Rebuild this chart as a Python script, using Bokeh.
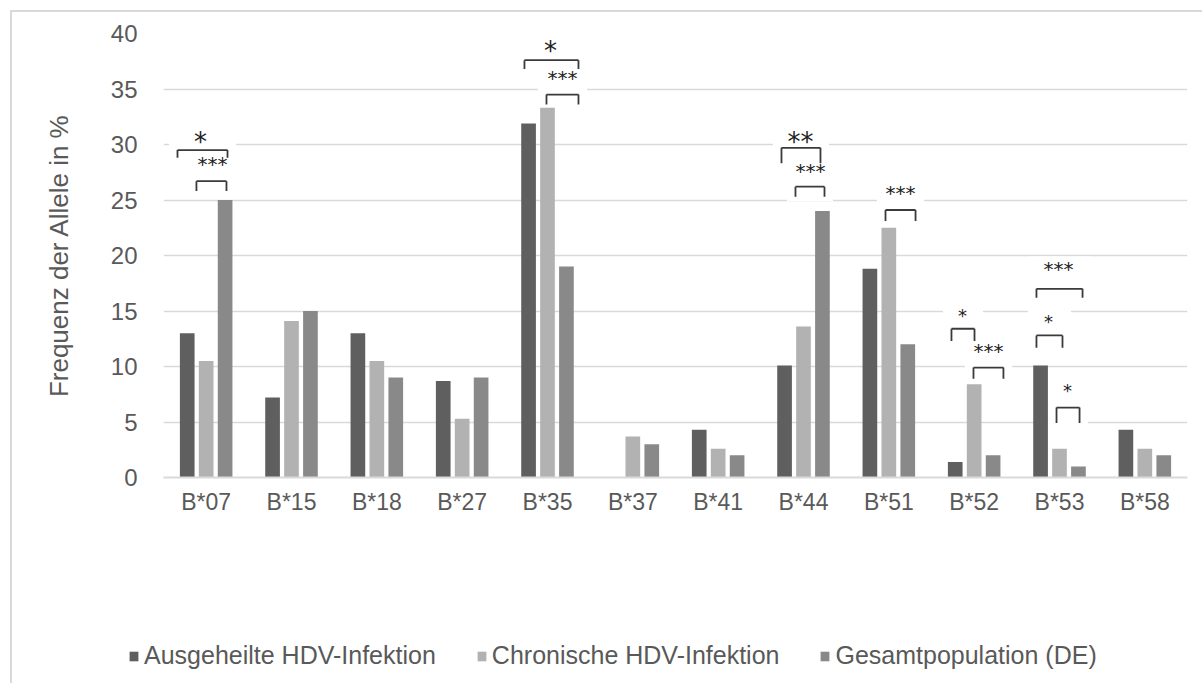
from bokeh.plotting import figure
from bokeh.layouts import column
from bokeh.models import Range1d, FixedTicker, Legend, LegendItem, ColumnDataSource
from bokeh.core.properties import value
from bokeh.embed import file_html
from bokeh.resources import INLINE

# ---------------- data ----------------
alleles = ["B*07", "B*15", "B*18", "B*27", "B*35", "B*37",
           "B*41", "B*44", "B*51", "B*52", "B*53", "B*58"]
ausgeheilt = [13.0, 7.2, 13.0, 8.7, 31.9, 0.0, 4.3, 10.1, 18.8, 1.4, 10.1, 4.3]
chronisch = [10.5, 14.1, 10.5, 5.3, 33.3, 3.7, 2.6, 13.6, 22.5, 8.4, 2.6, 2.6]
gesamt = [25.0, 15.0, 9.0, 9.0, 19.0, 3.0, 2.0, 24.0, 12.0, 2.0, 1.0, 2.0]
series_names = ["Ausgeheilte HDV-Infektion", "Chronische HDV-Infektion",
                "Gesamtpopulation (DE)"]
y_ticks = [0, 5, 10, 15, 20, 25, 30, 35, 40]

# significance annotations: allele, bracket from/to (offset in category units),
# bracket level, leg end level, label, label x offset, label level, label kind
annotations = [
    ("B*07", -0.336, 0.250, 29.5, 28.8, "*", -0.067, 30.6, "big"),
    ("B*07", -0.114, 0.238, 26.7, 25.8, "***", 0.074, 28.3, "triple"),
    ("B*35", -0.270, 0.363, 37.6, 36.8, "*", 0.035, 38.8, "big"),
    ("B*35", -0.012, 0.363, 34.5, 33.6, "***", 0.176, 36.1, "triple"),
    ("B*44", -0.258, 0.199, 29.7, 28.3, "**", -0.035, 30.6, "big"),
    ("B*44", -0.094, 0.246, 26.2, 25.3, "***", 0.082, 27.7, "triple"),
    ("B*51", -0.039, 0.313, 24.1, 23.1, "***", 0.137, 25.7, "triple"),
    ("B*52", -0.266, 0.004, 13.4, 12.3, "*", -0.137, 14.8, "small"),
    ("B*52", -0.008, 0.343, 9.9, 8.9, "***", 0.168, 11.5, "triple"),
    ("B*53", -0.270, 0.270, 17.0, 16.2, "***", -0.012, 18.9, "triple"),
    ("B*53", -0.270, 0.035, 12.8, 11.7, "*", -0.129, 14.2, "small"),
    ("B*53", -0.035, 0.235, 6.3, 4.9, "*", 0.094, 8.0, "small"),
]

# ---------------- styling ----------------
colors = ["#5f5f5f", "#b2b2b2", "#898989"]
text_color = "#595959"
grid_color = "#d9d9d9"
bar_width = 0.172
bar_step = 0.222
label_style = {"big": (26, 4), "triple": (20, 1), "small": (18, 2)}

p = figure(width=1190, height=588, output_backend="svg", toolbar_location=None,
           x_range=Range1d(0, len(alleles)), y_range=Range1d(0, 40),
           min_border_left=151, min_border_right=15, min_border_top=21,
           min_border_bottom=123, background_fill_color="white",
           border_fill_color="white", outline_line_color=None)
p.frame_align = False

centers = [i + 0.5 for i in range(len(alleles))]

# white masks behind annotations (hide gridlines like the text boxes)
mask = dict(left=[], right=[], bottom=[], top=[])
for a in annotations:
    c = alleles.index(a[0]) + 0.5
    mask["left"].append(c + a[1] - 0.1)
    mask["right"].append(c + a[2] + 0.1)
    mask["bottom"].append(a[4] - 0.4)
    mask["top"].append(a[7] + 1.0)
p.quad(left="left", right="right", bottom="bottom", top="top",
       source=ColumnDataSource(mask), fill_color="white", line_color=None)

for k, vals in enumerate([ausgeheilt, chronisch, gesamt]):
    xs = [c + (k - 1) * bar_step for c in centers]
    p.vbar(x=xs, top=vals, bottom=0, width=bar_width,
           fill_color=colors[k], line_color=None)

# brackets
seg = dict(x0=[], y0=[], x1=[], y1=[])
for a in annotations:
    c = alleles.index(a[0]) + 0.5
    xl, xr, yb, yl = c + a[1], c + a[2], a[3], a[4]
    for (x0, y0, x1, y1) in [(xl, yb, xr, yb), (xl, yb, xl, yl), (xr, yb, xr, yl)]:
        seg["x0"].append(x0); seg["y0"].append(y0)
        seg["x1"].append(x1); seg["y1"].append(y1)
p.segment(x0="x0", y0="y0", x1="x1", y1="y1", source=ColumnDataSource(seg),
          line_color="#3a3a3a", line_width=1.8)

for kind, (size, yoff) in label_style.items():
    sel = [a for a in annotations if a[8] == kind]
    p.text(x=[alleles.index(a[0]) + 0.5 + a[6] for a in sel],
           y=[a[7] for a in sel], text=[a[5] for a in sel],
           text_font=value("DejaVu Sans"), text_font_size=f"{size}px",
           text_align="center", text_baseline="alphabetic",
           y_offset=yoff, text_color="#222222")

# axes
p.xaxis.ticker = FixedTicker(ticks=centers)
p.xaxis.major_label_overrides = {c: a for c, a in zip(centers, alleles)}
p.xaxis.axis_line_color = grid_color
p.xaxis.axis_line_width = 2
p.xaxis.major_tick_line_color = None
p.xaxis.minor_tick_line_color = None
p.xaxis.major_label_text_font = "Liberation Sans"
p.xaxis.major_label_text_font_size = "23px"
p.xaxis.major_label_text_color = text_color
p.xaxis.major_label_standoff = 5

p.yaxis.ticker = FixedTicker(ticks=y_ticks)
p.yaxis.axis_line_color = None
p.yaxis.major_tick_line_color = None
p.yaxis.minor_tick_line_color = None
p.yaxis.major_label_text_font = "Liberation Sans"
p.yaxis.major_label_text_font_size = "24px"
p.yaxis.major_label_text_color = text_color
p.yaxis.major_label_standoff = 20
p.yaxis.axis_label = "Frequenz der Allele in %"
p.yaxis.axis_label_text_font = "Liberation Sans"
p.yaxis.axis_label_text_font_size = "26px"
p.yaxis.axis_label_text_font_style = "normal"
p.yaxis.axis_label_text_color = text_color
p.yaxis.axis_label_standoff = 34

p.xgrid.grid_line_color = None
p.ygrid.grid_line_color = grid_color
p.ygrid.grid_line_width = 1.5

# legend strip below the chart
pl = figure(width=1190, height=83, output_backend="svg", toolbar_location=None,
            x_range=Range1d(0, 1), y_range=Range1d(0, 1),
            min_border_left=0, min_border_right=0, min_border_top=0,
            min_border_bottom=0, x_axis_location=None, y_axis_location=None,
            outline_line_color=None, background_fill_color="white",
            border_fill_color="white")
pl.frame_align = False
pl.xgrid.grid_line_color = None
pl.ygrid.grid_line_color = None
items = []
for name, col in zip(series_names, colors):
    r = pl.vbar(x=[-5], top=[0], width=0.1, fill_color=col, line_color=None)
    items.append(LegendItem(label=name, renderers=[r]))
legend = Legend(items=items, orientation="horizontal", location=(116, 13),
                border_line_color=None, background_fill_alpha=0,
                padding=0, margin=0, spacing=40, label_standoff=5,
                glyph_width=11, glyph_height=12,
                label_text_font="Liberation Sans", label_text_font_size="25px",
                label_text_color=text_color)
pl.add_layout(legend)

lay = column(p, pl, spacing=0)
lay.styles = {"margin-left": "10px", "margin-top": "10px",
              "border-top": "2px solid #d9d9d9", "border-left": "2px solid #d9d9d9"}

open("out.html", "w").write(file_html(lay, INLINE))
